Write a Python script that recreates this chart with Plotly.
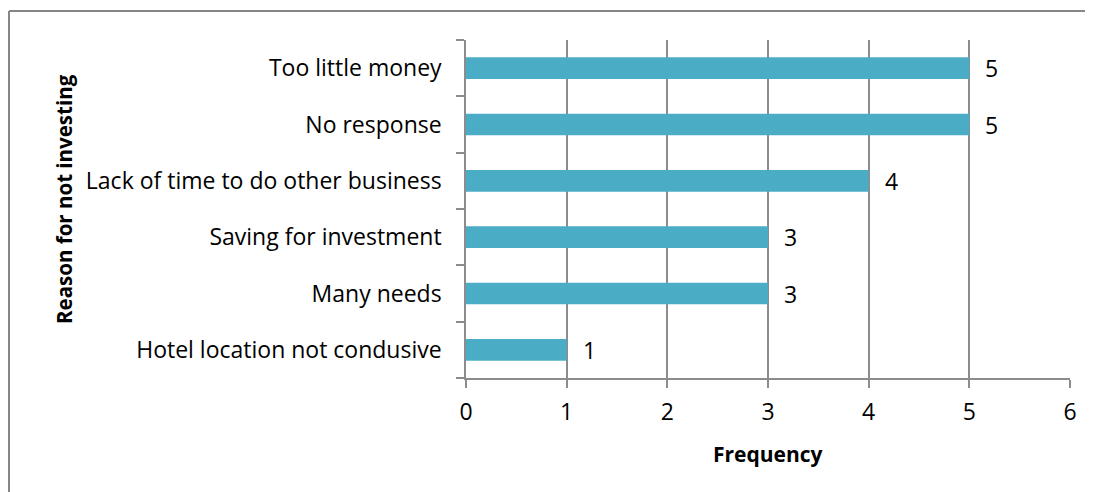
import plotly.graph_objects as go

categories = [
    "Hotel location not condusive",
    "Many needs",
    "Saving for investment",
    "Lack of time to do other business",
    "No response",
    "Too little money",
]
frequency = [1, 3, 3, 4, 5, 5]
x_ticks = [0, 1, 2, 3, 4, 5, 6]
x_title = "Frequency"
y_title = "Reason for not investing"

# page has an 8px body margin; figure drawn at (8, 8)
OFF = 8
W, H = 1093 - OFF, 492 - OFF
L, T = 466 - OFF, 40 - OFF
pw, ph = 604, 338
R = W - L - pw
B = H - T - ph

FONT = "Open Sans"
FS = 23
TFS = 21
grid = "#8c8c8c"


def px_x(page_x):
    return (page_x - OFF - L) / pw


def px_y(page_y):
    return (T + ph - (page_y - OFF)) / ph


fig = go.Figure(
    go.Bar(
        y=categories,
        x=frequency,
        orientation="h",
        marker=dict(color="#4BACC6", line=dict(width=0)),
        width=0.385,
        hoverinfo="x+y",
    )
)

for cat, val in zip(categories, frequency):
    fig.add_annotation(
        x=val, y=cat, xref="x", yref="y",
        text=str(val), showarrow=False,
        xanchor="left", yanchor="middle", xshift=14,
        font=dict(family=FONT, size=FS, color="#000000"),
    )

# axis titles
fig.add_annotation(
    x=0.5, y=px_y(454), xref="paper", yref="paper",
    text="<b>" + x_title + "</b>", showarrow=False,
    xanchor="center", yanchor="middle",
    font=dict(family=FONT, size=TFS, color="#000000"),
)
fig.add_annotation(
    x=px_x(64), y=px_y(199), xref="paper", yref="paper",
    text="<b>" + y_title + "</b>", showarrow=False, textangle=-90,
    xanchor="center", yanchor="middle",
    font=dict(family=FONT, size=20.5, color="#000000"),
)

# chart-area border (only left and top edges fall inside the image)
bx = px_x(9)
by = px_y(11)
fig.add_shape(type="line", xref="paper", yref="paper", x0=bx, x1=bx, y0=-2, y1=by,
              line=dict(color="#868686", width=2))
fig.add_shape(type="line", xref="paper", yref="paper", x0=bx, x1=3, y0=by, y1=by,
              line=dict(color="#868686", width=2))

fig.update_layout(
    width=W,
    height=H,
    margin=dict(l=L, r=R, t=T, b=B, autoexpand=False),
    paper_bgcolor="white",
    plot_bgcolor="white",
    showlegend=False,
    font=dict(family=FONT, size=FS, color="#000000"),
    xaxis=dict(
        range=[0, 6],
        tickvals=x_ticks,
        ticktext=[str(v) for v in x_ticks],
        showgrid=True,
        gridcolor=grid,
        gridwidth=1.5,
        showline=True,
        linecolor=grid,
        linewidth=1.5,
        ticks="outside",
        ticklen=8,
        tickcolor=grid,
        tickwidth=1.5,
        ticklabelstandoff=5,
        zeroline=False,
        tickfont=dict(family=FONT, size=FS, color="#000000"),
        automargin=False,
    ),
    yaxis=dict(
        type="category",
        categoryorder="array",
        categoryarray=categories,
        showgrid=False,
        showline=True,
        linecolor=grid,
        linewidth=1.5,
        ticks="outside",
        tickson="boundaries",
        ticklen=8,
        tickcolor=grid,
        tickwidth=1.5,
        ticklabelstandoff=18,
        zeroline=False,
        tickfont=dict(family=FONT, size=FS, color="#000000"),
        automargin=False,
    ),
)

fig.write_html("out.html")
